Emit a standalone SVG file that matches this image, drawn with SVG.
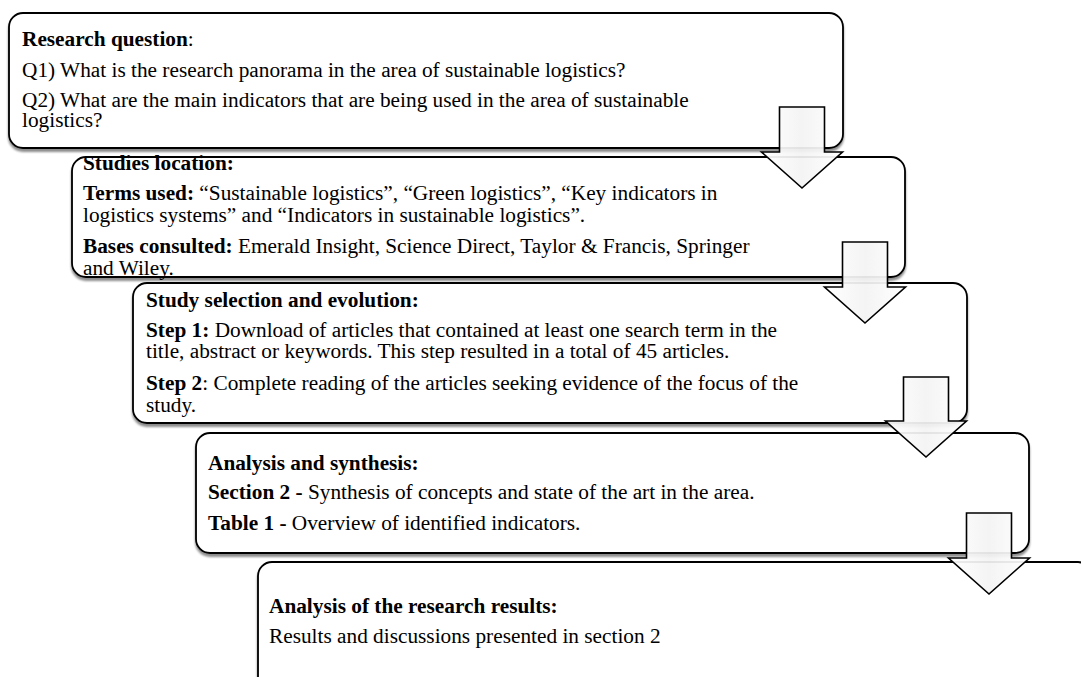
<svg xmlns="http://www.w3.org/2000/svg" width="1081" height="677" viewBox="0 0 1081 677">
<style>
.box{fill:#fff;stroke:#000;stroke-width:1.8;filter:url(#sh)}
.t{font-family:"Liberation Serif","Times New Roman",serif;font-size:21.3px;fill:#000}
.b{font-weight:bold}
.arr{fill:url(#ag);fill-opacity:0.93;stroke:#000;stroke-width:1.6;stroke-linejoin:miter}
</style>
<defs>
<filter id="sh" x="-5%" y="-10%" width="110%" height="130%">
<feDropShadow dx="0" dy="3" stdDeviation="1.3" flood-color="#000" flood-opacity="0.45"/>
</filter>
<linearGradient id="ag" x1="0" y1="0" x2="1" y2="0">
<stop offset="0" stop-color="#ffffff"/>
<stop offset="0.5" stop-color="#f3f3f3"/>
<stop offset="1" stop-color="#ffffff"/>
</linearGradient>
</defs>
<rect width="1081" height="677" fill="#fff"/>
<g id="node1">
<rect class="box" x="9" y="13" width="834" height="135" rx="14"/>
<text class="t" x="22" y="46"><tspan class="b">Research question</tspan>:</text>
<text class="t" x="22" y="77">Q1) What is the research panorama in the area of sustainable logistics?</text>
<text class="t" x="22" y="107">Q2) What are the main indicators that are being used in the area of sustainable</text>
<text class="t" x="22" y="127">logistics?</text>
</g>
<g id="node2">
<rect class="box" x="72" y="157" width="833" height="120" rx="14"/>
<text class="t b" x="83" y="170">Studies location:</text>
<text class="t" x="83" y="200"><tspan class="b">Terms used:</tspan> “Sustainable logistics”, “Green logistics”, “Key indicators in</text>
<text class="t" x="83" y="222">logistics systems” and “Indicators in sustainable logistics”.</text>
<text class="t" x="83" y="253"><tspan class="b">Bases consulted:</tspan> Emerald Insight, Science Direct, Taylor &amp; Francis, Springer</text>
<text class="t" x="83" y="275">and Wiley.</text>
</g>
<g id="node3">
<rect class="box" x="133" y="283" width="834" height="140" rx="14"/>
<text class="t b" x="146" y="307">Study selection and evolution:</text>
<text class="t" x="146" y="337"><tspan class="b">Step 1:</tspan> Download of articles that contained at least one search term in the</text>
<text class="t" x="146" y="358">title, abstract or keywords. This step resulted in a total of 45 articles.</text>
<text class="t" x="146" y="390"><tspan class="b">Step 2</tspan>: Complete reading of the articles seeking evidence of the focus of the</text>
<text class="t" x="146" y="412">study.</text>
</g>
<g id="node4">
<rect class="box" x="196" y="433" width="833" height="120" rx="14"/>
<text class="t b" x="208" y="470">Analysis and synthesis:</text>
<text class="t" x="208" y="499"><tspan class="b">Section 2 -</tspan> Synthesis of concepts and state of the art in the area.</text>
<text class="t" x="208" y="530"><tspan class="b">Table 1 -</tspan> Overview of identified indicators.</text>
</g>
<g id="node5">
<rect class="box" x="258" y="562" width="834" height="140" rx="14"/>
<text class="t b" x="269" y="613">Analysis of the research results:</text>
<text class="t" x="269" y="643">Results and discussions presented in section 2</text>
</g>
<g id="connectors">
<path class="arr" d="M779.5 107H824.5V152H842.5L802 188L761.5 152H779.5Z"/>
<path class="arr" d="M842.5 242H887.5V287H905.5L865 323L824.5 287H842.5Z"/>
<path class="arr" d="M903.5 377H948.5V421H966.5L926 457L885.5 421H903.5Z"/>
<path class="arr" d="M966.5 513H1011.5V558H1029.5L989 594L948.5 558H966.5Z"/>
</g>
</svg>
